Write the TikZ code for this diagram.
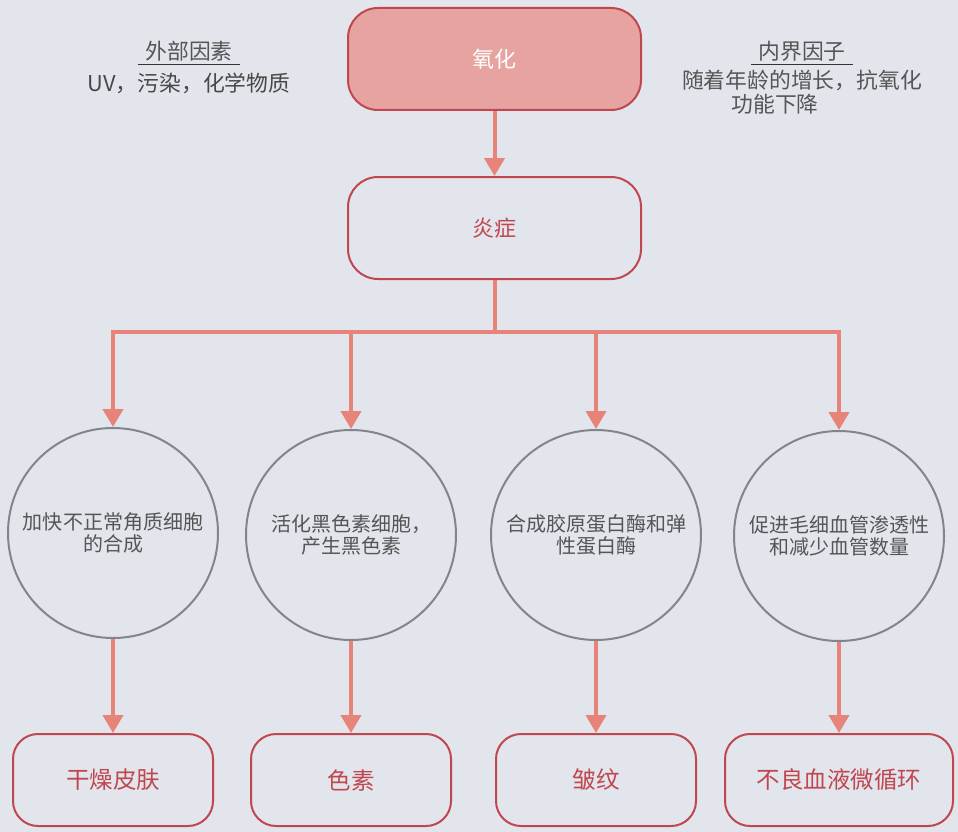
\documentclass[tikz,border=0pt]{standalone}
\usepackage{fontspec}
\setmainfont{Noto Sans CJK SC}
\usepackage{xcolor}
\usetikzlibrary{arrows.meta,positioning}
\definecolor{bgcol}{HTML}{E2E5EC}
\definecolor{rootfill}{HTML}{E6A3A0}
\definecolor{boxred}{HTML}{C0474F}
\definecolor{flowred}{HTML}{E8837A}
\definecolor{ringgray}{HTML}{83858D}
\definecolor{textgray}{HTML}{555555}
\tikzset{
  stage/.style   = {shape=rectangle, rounded corners=30pt,
                    draw=boxred, line width=2pt, align=center,
                    minimum width=293pt, minimum height=102pt,
                    text=boxred, font=\fontsize{22}{26}\selectfont},
  root/.style    = {stage, fill=rootfill, text=white},
  effect/.style  = {circle, draw=ringgray, line width=2pt, align=center,
                    minimum size=210pt, inner sep=0pt,
                    text=textgray, font=\fontsize{20}{22}\selectfont},
  result/.style  = {stage, rounded corners=25pt,
                    minimum width=200pt, minimum height=92pt,
                    font=\fontsize{23.5}{27}\selectfont},
  factor/.style  = {text=textgray, font=\fontsize{21.8}{25}\selectfont},
  heading/.style = {factor, minimum width=102pt, minimum height=26pt, inner sep=0pt},
  rule/.style    = {draw=black!80, line width=1.2pt},
  link/.style    = {draw=flowred, line width=4pt},
  flow/.style    = {link, -{Triangle[length=18pt,width=20pt]}}
}

\begin{document}
\begin{tikzpicture}[x=1pt, y=-1pt]
  \useasboundingbox[fill=bgcol] (0,0) rectangle (958,832);
  % main chain
  \node [root]  (oxid)  at (494.5,59)  {氧化};
  \node [stage] (infl)  at (494.5,228) {炎症};
  \coordinate   (split) at (494.5,332);
  % factors
  \node [heading] (extT) at (189,51)  {外部因素};
  \node [factor, text=textgray!85!black] (extL) at (189,83)  {UV，污染，化学物质};
  \node [heading] (intT) at (802,51)  {内界因子};
  \node [factor]  (intA) at (802,80)  {随着年龄的增长，抗氧化};
  \node [factor]  (intB) at (775,104) {功能下降};
  \draw [rule] (extT.south west) -- (extT.south east);
  \draw [rule] (intT.south west) -- (intT.south east);
  % effects
  \node [effect] (eKer) at (113,533) {加快不正常角质细胞\\的合成};
  \node [effect] (eMel) at (351,535) {活化黑色素细胞，\\产生黑色素};
  \node [effect] (eCol) at (596,535) {合成胶原蛋白酶和弹\\性蛋白酶};
  \node [effect] (eVas) at (839,536) {促进毛细血管渗透性\\和减少血管数量};
  % results
  \node [result] (rDry) at (113,780) {干燥皮肤};
  \node [result] (rPig) at (351,780) {色素};
  \node [result] (rWri) at (596,780) {皱纹};
  \node [result, minimum width=228pt] (rCir) at (839,780) {不良血液微循环};
  % connectors
  \draw [flow] (oxid) -- (infl);
  \draw [link] (infl) -- (split);
  \foreach \e in {eKer,eMel,eCol,eVas}
    \draw [flow] (split) -| (\e.north);
  \draw [flow] (eKer) -- (rDry);
  \draw [flow] (eMel) -- (rPig);
  \draw [flow] (eCol) -- (rWri);
  \draw [flow] (eVas) -- (rCir);
\end{tikzpicture}
\end{document}
